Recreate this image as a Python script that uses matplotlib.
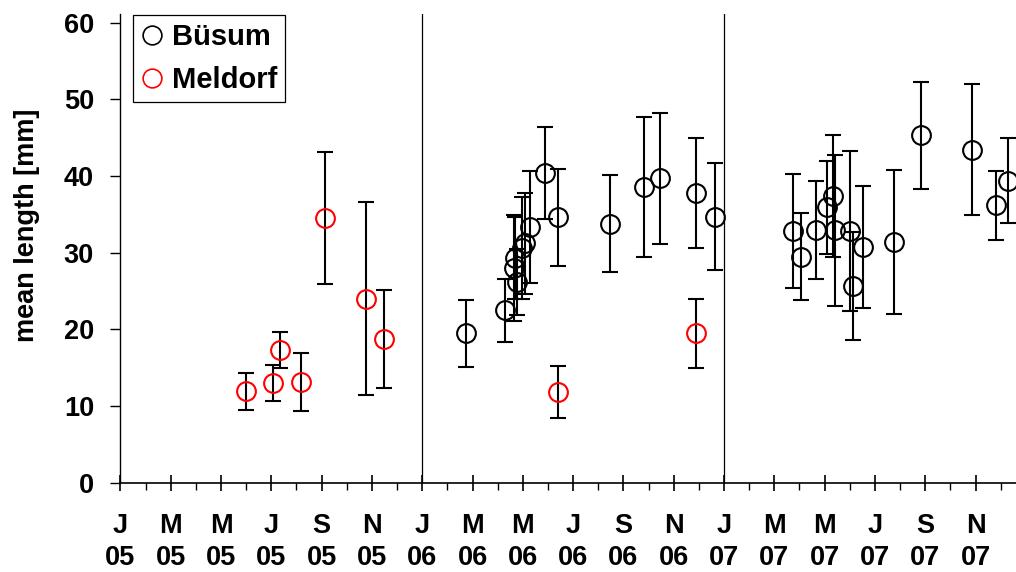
import numpy as np
import matplotlib
matplotlib.use("Agg")
import matplotlib.pyplot as plt
from matplotlib.ticker import FixedLocator, MultipleLocator

plt.rcParams['font.family'] = ['Liberation Sans', 'DejaVu Sans']
plt.rcParams['font.weight'] = 'bold'

# x = months since Jan 2005 (0 = Jan 05)
# ---------------------------------------------------------------
busum_month = [13.74, 15.29, 15.65, 15.69, 15.78, 15.96, 16.08, 16.29,
               16.87, 17.39, 19.45, 20.81, 21.44, 22.89, 23.63,
               26.76, 27.06, 27.65, 28.11, 28.32, 28.43, 29.01, 29.14,
               29.53, 30.76, 31.82, 33.85, 34.83, 35.31]
busum_len = [19.5, 22.5, 28.0, 29.3, 26.2, 30.6, 31.2, 33.4,
             40.4, 34.6, 33.8, 38.6, 39.7, 37.8, 34.7,
             32.8, 29.5, 33.0, 35.9, 37.4, 32.9, 32.8, 25.7,
             30.7, 31.4, 45.3, 43.4, 36.2, 39.4]
busum_sd = [4.35, 4.1, 6.9, 5.4, 4.3, 6.7, 6.6, 7.3,
            5.95, 6.35, 6.3, 9.1, 8.55, 7.2, 7.0,
            7.45, 5.65, 6.4, 6.1, 7.95, 9.8, 10.4, 7.05,
            7.95, 9.4, 6.95, 8.55, 4.5, 5.5]

meldorf_month = [4.99, 6.08, 6.36, 7.18, 8.14, 9.77, 10.48, 17.39, 22.89]
meldorf_len = [11.9, 13.0, 17.3, 13.1, 34.5, 24.0, 18.7, 11.8, 19.5]
meldorf_sd = [2.4, 2.4, 2.4, 3.8, 8.6, 12.6, 6.4, 3.4, 4.5]

month_letters = ['J', 'M', 'M', 'J', 'S', 'N']
years = ['05', '06', '07']
# ---------------------------------------------------------------

fig = plt.figure(figsize=(10.16, 5.72), dpi=100)
W, H = 1016., 572.
ax = fig.add_axes([120.4/W, 1-482.7/H, (W-120.4)/W, (482.7-14)/H])

# error bars (black for both sites)
ax.errorbar(busum_month, busum_len, yerr=busum_sd, fmt='none', ecolor='black',
            elinewidth=1.5, capsize=6, capthick=1.5, zorder=2)
ax.errorbar(meldorf_month, meldorf_len, yerr=meldorf_sd, fmt='none', ecolor='black',
            elinewidth=1.5, capsize=6, capthick=1.5, zorder=2)

# markers
ax.plot(busum_month, busum_len, 'o', ms=13.5, mfc='none', mec='black', mew=1.5,
        label='Büsum', zorder=3)
ax.plot(meldorf_month, meldorf_len, 'o', ms=13.5, mfc='none', mec='red', mew=1.5,
        label='Meldorf', zorder=3)

# year separators
ax.axvline(12, color='black', lw=0.9, zorder=1)
ax.axvline(24, color='black', lw=0.9, zorder=1)

ax.set_xlim(0, 35.61)
ax.set_ylim(0, 61.13)

ax.spines['top'].set_visible(False)
ax.spines['right'].set_visible(False)
ax.spines['left'].set_linewidth(1.0)
ax.spines['bottom'].set_linewidth(1.2)

major = np.arange(0, 36, 2)
labels = [month_letters[i % 6] + '\n' + years[i // 6] for i in range(len(major))]
ax.xaxis.set_major_locator(FixedLocator(major))
ax.xaxis.set_minor_locator(FixedLocator(np.arange(1, 36, 2)))
ax.set_xticklabels(labels)
ax.tick_params(axis='x', which='major', direction='inout', length=12, width=1.2,
               labelsize=19.5, pad=16)
ax.tick_params(axis='x', which='minor', direction='out', length=5, width=1.0)
for lab in ax.get_xticklabels():
    lab.set_linespacing(1.3)

ax.yaxis.set_major_locator(MultipleLocator(10))
ax.tick_params(axis='y', which='major', direction='out', length=7, width=1.0,
               labelsize=19.5, pad=12)

fig.text(27/W, 1-225/H, 'mean length [mm]', rotation=90, ha='center', va='center',
         fontsize=19.5, fontweight='bold')

leg = ax.legend(loc='upper left', bbox_to_anchor=(133/W, 1-15/H),
                bbox_transform=fig.transFigure, borderaxespad=0, fancybox=False,
                edgecolor='black', framealpha=1, fontsize=21, markerscale=1.0,
                handlelength=0.75, handletextpad=0.3, borderpad=0.28, labelspacing=0.5)
leg.get_frame().set_linewidth(0.9)
for h in leg.legend_handles:
    h.set_markeredgewidth(1.2)

fig.savefig('out.png', dpi=100)
